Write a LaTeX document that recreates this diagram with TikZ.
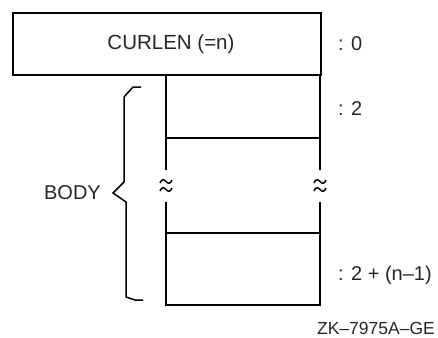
\documentclass[tikz,border=0pt]{standalone}
\usepackage{fontspec}
\setmainfont{Liberation Sans}
\begin{document}
\begin{tikzpicture}[x=1pt,y=-1pt,
  cell/.style={line width=2pt},
  brace/.style={line width=1.5pt,line join=miter},
  wave/.style={line width=1.5pt},
  lbl/.style={font=\fontsize{20}{23}\selectfont,inner sep=0pt,anchor=west,text=black!85},
  tag/.style={font=\fontsize{17.5}{20}\selectfont,inner sep=0pt,anchor=east,text=black!85}]
\useasboundingbox (0,0) rectangle (438,337);
% header box
\node[draw,cell,minimum width=308pt,minimum height=62pt,inner sep=0pt,anchor=north west,
      text=black!85,font=\fontsize{20.5}{23}\selectfont] (curlen) at (12,12) {\hspace{8pt}CURLEN (=n)};
% body
\coordinate (tl) at (166,74);
\coordinate (tr) at (320,74);
\draw[cell] (tl) -- (166,170);
\draw[cell] (tr) -- (320,170);
\draw[cell] (166,138) -- (320,138);
\draw[cell] (166,202) -- (166,305) -- (320,305) -- (320,202);
\draw[cell] (166,233) -- (320,233);
% break marks
\foreach \cx in {166,320}{
  \foreach \cy in {181.5,189.5}{
    \draw[wave] (\cx-6,\cy+1.5) .. controls (\cx-4.5,\cy-2.5) and (\cx-2,\cy-2.5) .. (\cx,\cy)
                 .. controls (\cx+2,\cy+2.5) and (\cx+4.5,\cy+2.5) .. (\cx+6,\cy-1.5);
  }
}
% brace
\draw[brace] (141,87) -- (133,87) -- (124,97) -- (124,182) -- (113,193) -- (126,202) -- (126,297) -- (135,300) -- (143,300);
% labels
\node[lbl] (l0) at (338,44) {: 0};
\node[lbl] (l2) at (338,109) {: 2};
\node[lbl] (ln) at (338,275) {: 2 + (n\textendash 1)};
\node[lbl,anchor=east] (body) at (101,193) {BODY};
\node[tag] (zk) at (435,328) {ZK\textendash 7975A\textendash GE};
\end{tikzpicture}
\end{document}
